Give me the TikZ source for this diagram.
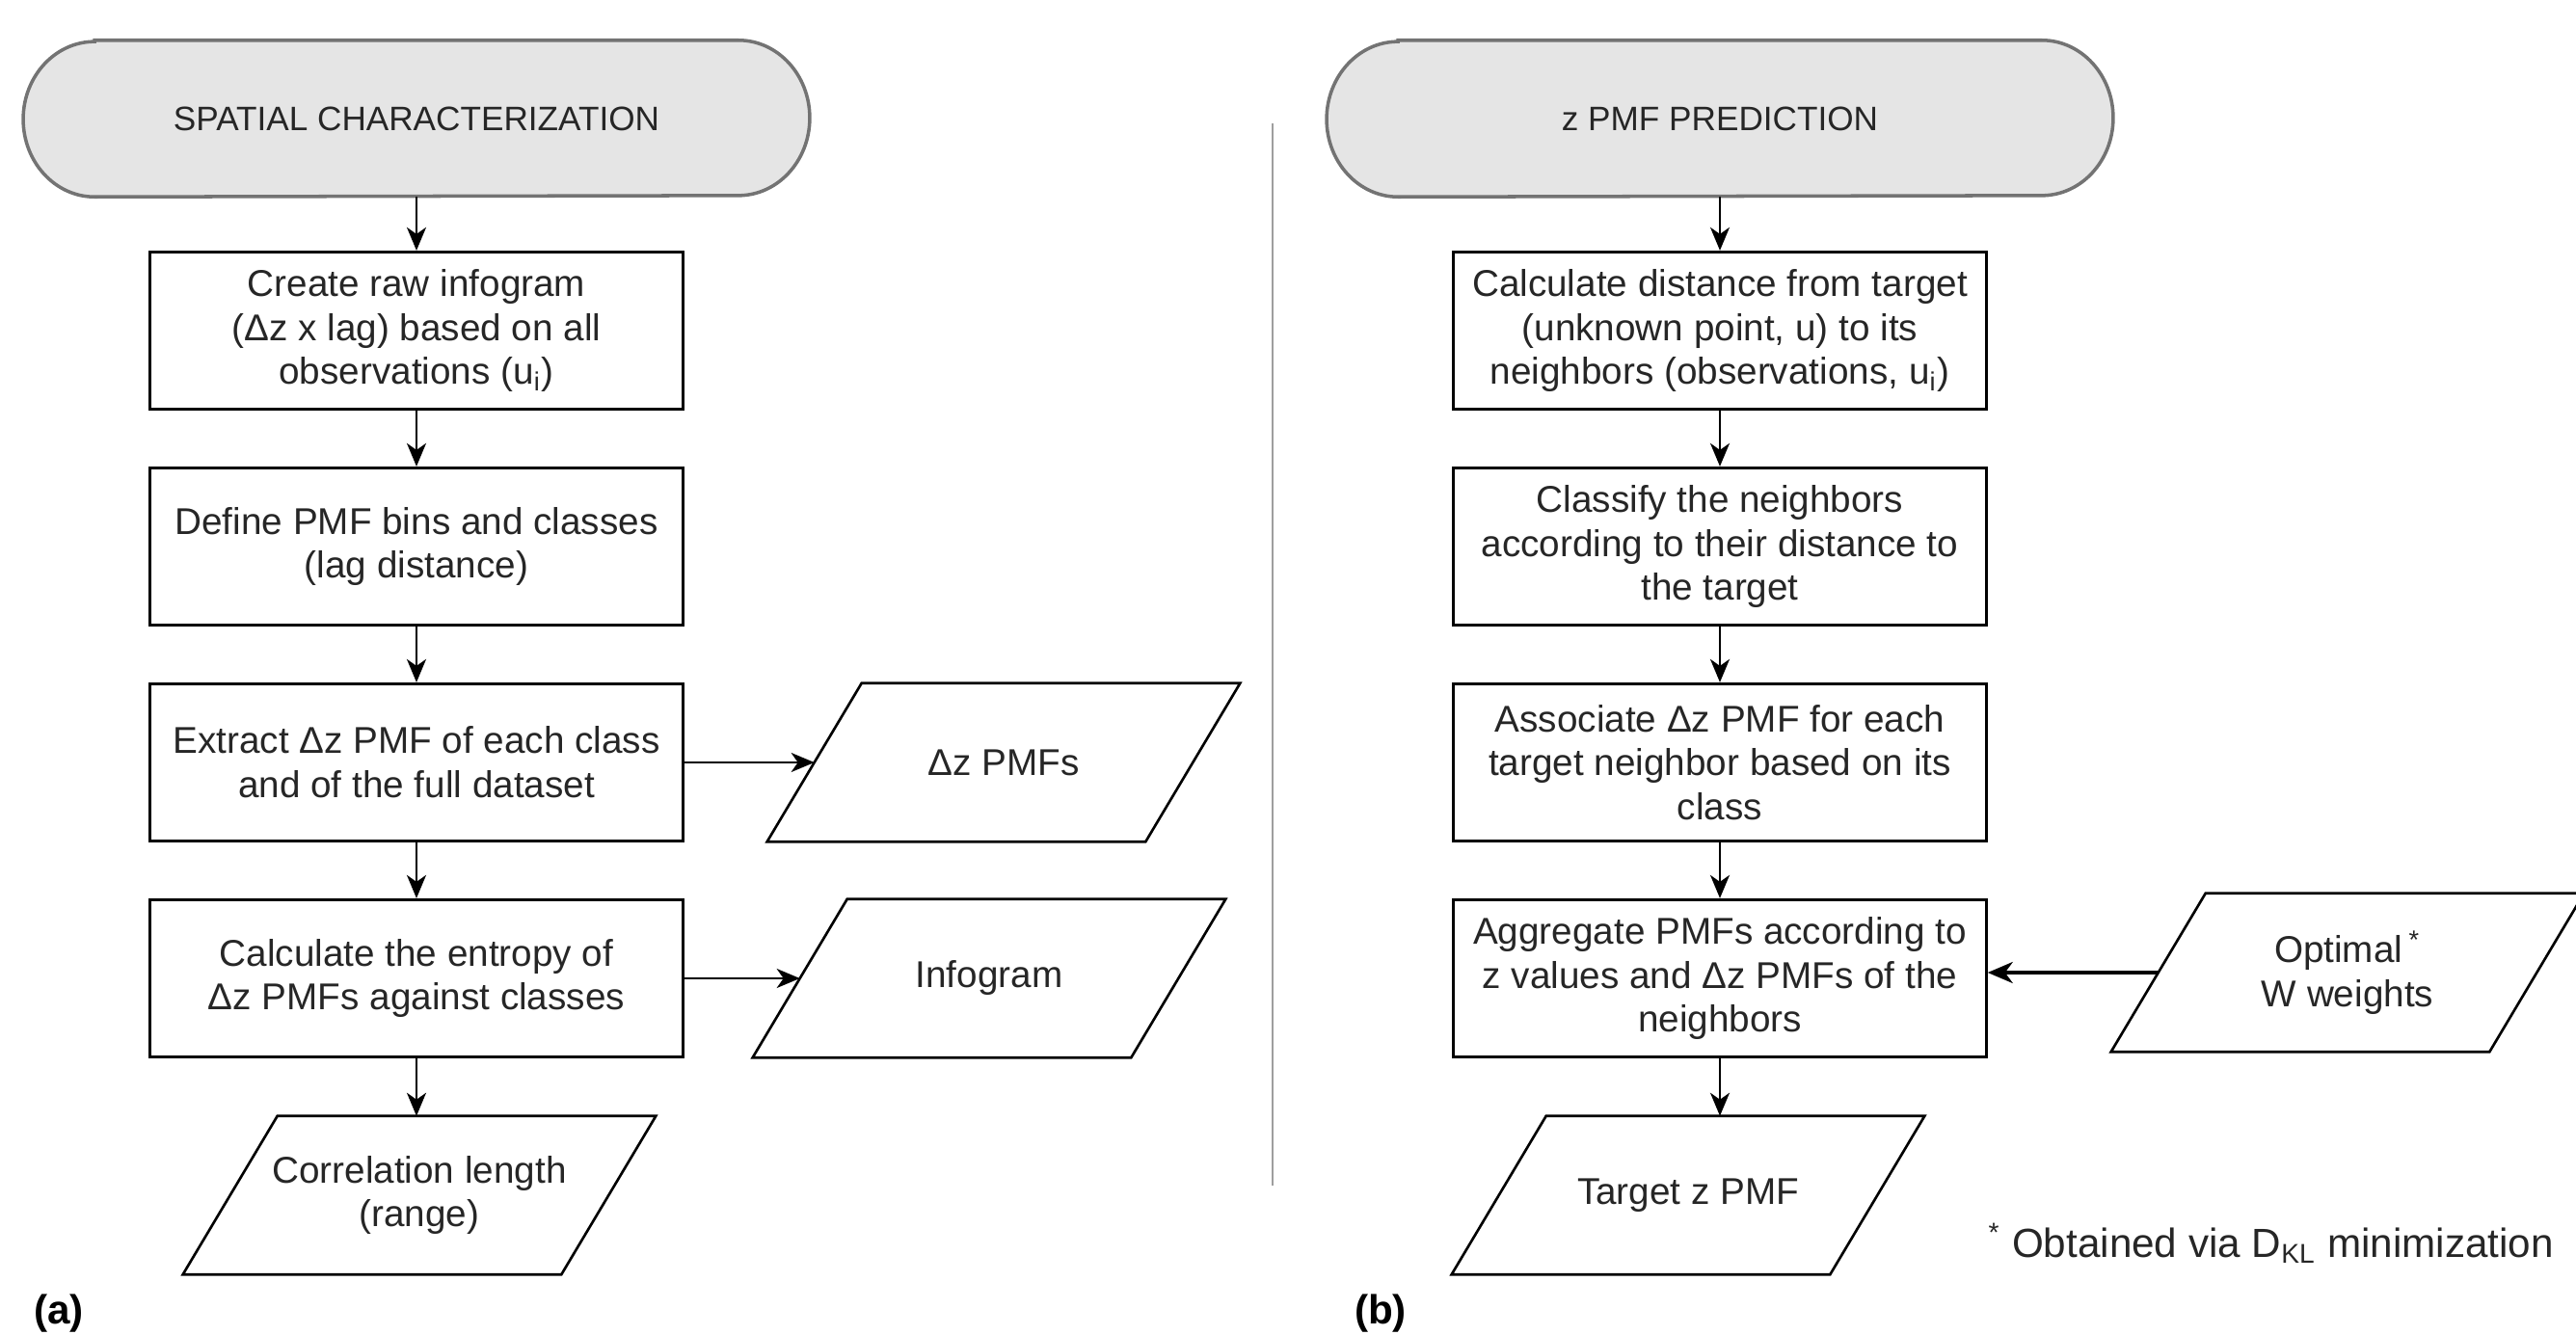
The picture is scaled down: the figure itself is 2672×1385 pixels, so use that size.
\documentclass[tikz,border=0pt]{standalone}
\usepackage{fontspec}
\setmainfont{Liberation Sans}
\usetikzlibrary{arrows.meta,calc,backgrounds}

\newcommand{\termshape}[1]{%
  \path[termline] ($(#1.north west)+(0.74cm,0)$) -- ($(#1.north east)+(-0.74cm,0)$)
    arc[start angle=90,end angle=-90,x radius=0.74cm,y radius=0.805cm]
    -- ($(#1.south west)+(0.74cm,0)$)
    arc[start angle=270,end angle=90,x radius=0.74cm,y radius=0.805cm] -- cycle;}
\newcommand{\parashape}[1]{%
  \draw[ioline] ($(#1.south west)+(-0.49cm,0)$) -- ($(#1.south east)+(-0.49cm,0)$)
    -- ($(#1.north east)+(0.49cm,0)$) -- ($(#1.north west)+(0.49cm,0)$) -- cycle;}

\begin{document}
\begin{tikzpicture}[x=0.01cm,y=-0.01cm,
  txt/.style={font=\fontsize{11}{13}\selectfont, text=black!85, align=center, inner sep=0pt},
  procbox/.style={txt, draw=black, line width=0.9pt, minimum width=5.52cm, minimum height=1.63cm},
  termnode/.style={font=\fontsize{10}{12}\selectfont, text=black!85, minimum width=8.14cm, minimum height=1.61cm, inner sep=0pt},
  iobox/.style={txt, minimum width=3.91cm, minimum height=1.63cm},
  conn/.style={-{Stealth[length=0.24cm,width=0.2cm,inset=0.07cm]}, line width=0.65pt, black},
  thickconn/.style={-{Stealth[length=0.26cm,width=0.22cm,inset=0.08cm]}, line width=1pt, black},
  termline/.style={draw=black!55, fill=black!10, line width=1pt},
  ioline/.style={draw=black, line width=0.75pt},
  panel/.style={font=\fontsize{12}{14}\selectfont\bfseries, inner sep=0pt},
  divider/.style={draw=black!38, line width=0.6pt},
]
\useasboundingbox (0,0) rectangle (2672,1385);

% ---- left panel ----
\node[termnode] (t1) at (432,123) {SPATIAL CHARACTERIZATION};
\node[procbox] (b1) at (432,343) {Create raw infogram\\(Δz x lag) based on all\\observations (u\textsubscript{i})};
\node[procbox] (b2) at (432,567) {Define PMF bins and classes\\(lag distance)};
\node[procbox] (b3) at (432,791) {Extract Δz PMF of each class\\and of the full dataset};
\node[procbox] (b4) at (432,1015) {Calculate the entropy of\\Δz PMFs against classes};
\node[iobox] (p1) at (1041,791) {Δz PMFs};
\node[iobox] (p2) at (1026,1015) {Infogram};
\node[iobox] (p3) at (435,1240) {Correlation length\\(range)};
\node[panel] (la) at (61,1363) {(a)};

% ---- divider ----
\coordinate (d1) at (1320,128);
\coordinate (d2) at (1320,1230);
\draw[divider] (d1) -- (d2);

% ---- right panel ----
\node[termnode] (t2) at (1784,123) {z PMF PREDICTION};
\node[procbox] (b5) at (1784,343) {Calculate distance from target\\(unknown point, u) to its\\neighbors (observations, u\textsubscript{i})};
\node[procbox] (b6) at (1784,567) {Classify the neighbors\\according to their distance to\\the target};
\node[procbox] (b7) at (1784,791) {Associate Δz PMF for each\\target neighbor based on its\\class};
\node[procbox] (b8) at (1784,1015) {Aggregate PMFs according to\\z values and Δz PMFs of the\\neighbors};
\node[iobox] (opt) at (2435,1009) {Optimal\,\textsuperscript{*}\\W weights};
\node[iobox] (tgt) at (1751,1240) {Target z PMF};
\node[txt, anchor=west, font=\fontsize{12}{14}\selectfont] (note) at (2062,1290) {\textsuperscript{*} Obtained via D\textsubscript{KL} minimization};
\node[panel] (lb) at (1432,1363) {(b)};

% ---- shapes ----
\begin{scope}[on background layer]
\termshape{t1}
\termshape{t2}
\end{scope}
\parashape{p1}
\parashape{p2}
\parashape{p3}
\parashape{opt}
\parashape{tgt}

% ---- connectors ----
\draw[conn] (t1.south) -- (b1.north);
\draw[conn] (b1.south) -- (b2.north);
\draw[conn] (b2.south) -- (b3.north);
\draw[conn] (b3.south) -- (b4.north);
\draw[conn] (b4.south) -- (b4.south |- p3.north);
\draw[conn] (b3.east) -- (p1.west);
\draw[conn] (b4.east) -- (p2.west);

\draw[conn] (t2.south) -- (b5.north);
\draw[conn] (b5.south) -- (b6.north);
\draw[conn] (b6.south) -- (b7.north);
\draw[conn] (b7.south) -- (b8.north);
\draw[conn] (b8.south) -- (b8.south |- tgt.north);
\draw[thickconn] (opt.west) -- (opt.west -| b8.east);
\end{tikzpicture}
\end{document}
